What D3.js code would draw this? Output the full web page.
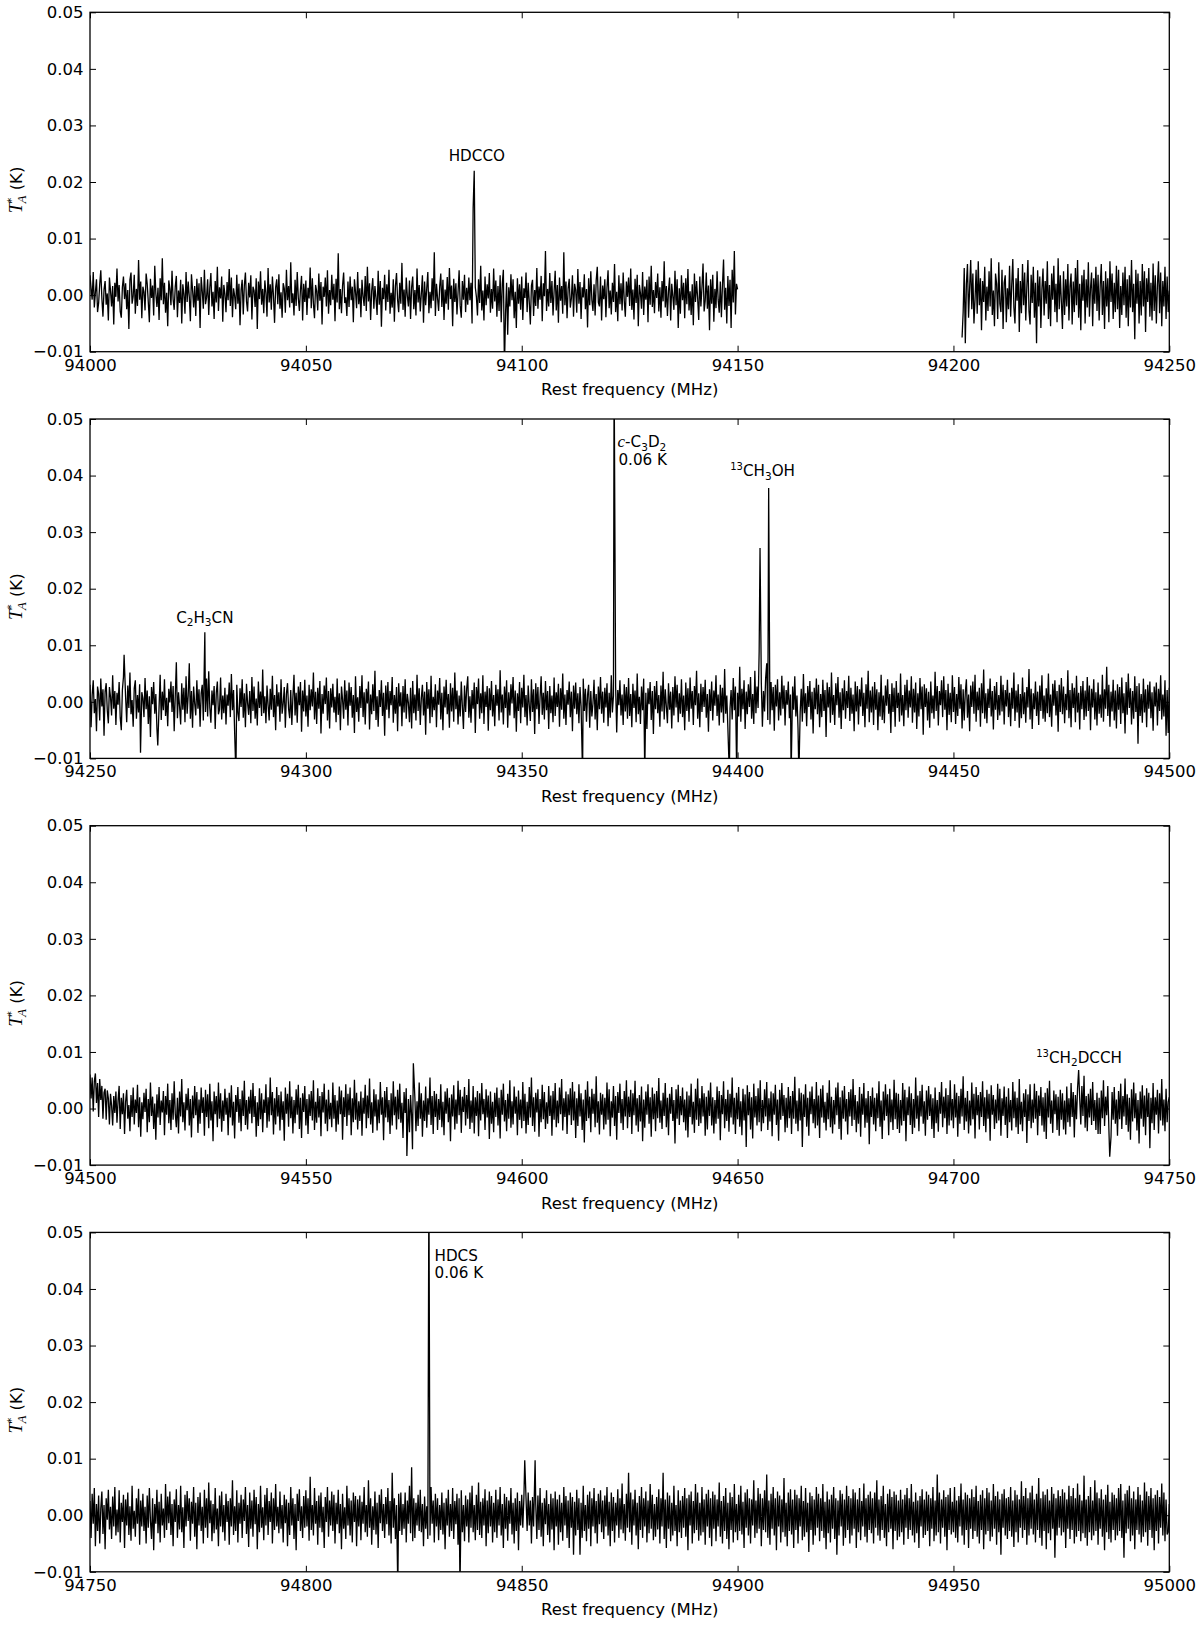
<!DOCTYPE html>
<html><head><meta charset="utf-8">
<script src="https://cdn.jsdelivr.net/npm/d3@7"></script>
<style>body{margin:0;background:#fff}svg{display:block}</style>
</head><body><div id="chart"></div>
<script>
// ---------- data ----------
const panelRanges = [[94000,94250],[94250,94500],[94500,94750],[94750,95000]];
const xTicks1 = [94000,94050,94100,94150,94200,94250];
const xTicks2 = [94250,94300,94350,94400,94450,94500];
const xTicks3 = [94500,94550,94600,94650,94700,94750];
const xTicks4 = [94750,94800,94850,94900,94950,95000];
const yTicks = [-0.01,0,0.01,0.02,0.03,0.04,0.05];
const yTickLabels = ["\u22120.01","0.00","0.01","0.02","0.03","0.04","0.05"];
const xLabel = "Rest frequency (MHz)";
const valueUnit = 1e-4;    // K per stored unit (0.1 mK); channels every 0.25 MHz

// panel 1, band 94000-94150
const p1a = [
35,12,-8,41,-22,5,28,-30,-14,19,44,-6,-38,10,25,-17,3,-45,31,8,-20,16,-52,22,-3,
47,-11,18,-29,-40,14,33,-7,21,-25,9,-60,27,40,-15,-2,36,-33,11,-19,62,-8,24,-41,15,
6,-27,38,20,-12,-48,29,-5,17,-36,52,3,-21,13,-44,30,-9,65,-16,22,-31,4,-55,26,11,
-18,43,-7,-26,15,34,-39,8,-14,27,-50,19,2,-33,41,-12,24,-3,-46,37,10,-22,16,-37,29,
-10,21,-58,32,7,-24,45,-16,-4,28,-35,13,39,-20,6,-42,25,-13,50,-28,14,-6,33,-47,18,
2,-30,23,-9,46,-19,31,-39,12,-1,-25,36,-15,20,-53,9,27,-34,17,40,-11,-29,22,-4,35,
-43,15,8,-21,30,-60,24,-7,42,-17,11,-32,26,4,-38,48,-13,19,-26,33,-2,-49,14,28,-16,
37,-24,5,-40,21,12,-31,45,-9,16,-22,58,-14,3,-36,27,-19,41,-5,-28,10,34,-45,20,-12,
26,-35,13,-6,49,-23,30,-15,-41,18,7,-27,38,-10,23,-52,15,-3,31,-20,44,-33,9,-18,36,
-8,20,-46,29,-13,74,-25,11,-32,17,40,-14,-4,-37,24,-21,33,-9,15,-48,28,6,-23,41,-16,
12,-39,27,-2,-19,34,-28,50,-11,21,-44,8,30,-24,16,-6,-35,43,-17,25,-56,13,-7,36,-27,
19,-12,45,-33,4,-22,28,-47,16,39,-8,-30,22,-15,57,-26,10,-38,31,-1,-20,26,-42,14,33,
-25,9,-36,47,-13,18,-29,3,35,-49,24,-18,12,41,-32,6,-23,30,-10,76,-37,20,-5,-28,15,
38,-21,27,-44,10,-15,32,-26,48,-7,17,-55,29,-12,21,-34,5,44,-19,-40,25,-8,36,-30,13,
-17,31,-9,22,-50,40,-23,14,-3,-36,28,-14,52,-27,8,-45,33,-18,19,-6,39,-31,11,-24,47,
-11,26,-38,16,-28,35,-48,20,45,-16,-33,22,-70,14,-20,37,-9,28,-41,6,-58,30,-15,19,-26,
33,-44,12,-5,40,-30,22,-12,-52,17,27,-37,9,-19,48,-24,15,-8,34,-46,21,-2,78,-28,11,
-20,39,-14,25,-36,7,43,-27,18,-49,31,-10,16,-33,76,-18,24,-41,12,29,-22,-6,35,-38,20,
9,-31,46,-15,23,-42,14,-4,37,-25,11,-57,30,-18,42,-9,-28,19,-36,26,50,-13,-20,33,-45,
17,-7,28,-39,13,44,-23,8,-34,22,-12,55,-30,6,-46,35,-16,21,-27,40,-10,-38,24,-3,31,
-19,47,-26,10,-43,29,-14,36,-55,18,3,-24,41,-35,15,-8,27,-48,33,-17,52,-21,9,-32,23,
-5,38,-29,14,-40,25,-11,60,-22,16,-37,8,31,-45,20,-2,-26,43,-18,28,-58,12,-33,35,-9,
22,-41,30,-16,46,-27,7,-35,19,-53,38,-12,25,-6,-44,33,-20,14,56,-29,-10,40,-24,17,-62,
28,-15,36,-47,11,-23,42,-8,-31,24,-39,18,63,-26,13,-50,34,-19,27,-58,45,-13,78,-34,20,
10];
// panel 1, band 94202-94250
const p1b = [
-75,-30,48,-85,20,55,-40,12,62,-25,38,-50,-8,45,-33,60,-18,30,-62,25,-12,50,-45,15,-28,
42,-20,65,-35,8,-55,38,20,-42,58,-15,-30,45,-60,22,35,-48,12,-25,52,-38,18,64,-22,-50,
30,-10,48,-65,25,-32,55,-18,40,-45,15,62,-28,-52,36,-14,50,-40,22,-85,44,-20,33,-58,12,
47,-36,25,-15,60,-42,18,-55,38,-8,52,-30,20,-48,65,-25,35,-12,-60,42,-35,28,-20,55,-45,
15,38,-52,24,-30,48,-18,62,-40,20,-62,35,-10,45,-50,28,-22,58,-38,12,40,-55,30,-15,50,
-28,36,-45,18,55,-35,25,-60,42,-20,30,-48,60,-12,38,-42,22,-30,52,-25,45,-58,16,-35,40,
-18,50,-40,28,-55,35,-22,62,-30,20,-78,45,-15,38,-50,25,-36,55,-20,42,-65,30,-12,48,-38,
22,-45,56,-28,35,-50,18,60,-32,40,-55,25,-20,50,-42,33,-30,8];
// panel 2, 94250-94500
const p2 = [
30,-45,12,38,-20,5,-52,27,14,-33,41,-8,22,-60,18,33,-15,-38,26,9,-24,47,-12,19,-41,
16,-5,35,-28,-50,21,44,-17,8,-36,29,-11,52,-22,3,-44,24,38,-30,12,-19,31,-55,17,6,
-27,42,-13,20,-39,10,-62,26,-4,35,-21,14,-47,30,-9,48,-32,18,-15,40,-25,7,-43,23,-1,
36,-18,28,-52,11,70,-29,17,-8,-40,33,-14,25,-36,45,-21,12,68,-30,19,-46,27,-3,-24,38,
-12,22,-44,15,30,-33,9,-18,41,-26,54,-10,-37,20,-6,28,-48,16,36,-22,-14,43,-31,11,-20,
25,-40,13,-7,34,-27,49,-15,21,-53,8,30,-19,-34,24,-9,40,-28,15,-45,32,-2,-23,19,-38,
44,-16,27,-30,6,-42,36,-11,18,-25,57,-20,10,-38,29,-5,-33,23,-14,46,-27,12,-50,31,-8,
17,-35,40,-21,-3,26,-46,14,33,-12,-29,21,-41,9,48,-24,16,-37,27,-6,35,-53,20,-17,39,
-26,11,-44,30,-15,22,-8,52,-31,18,-39,25,-12,37,-56,14,-21,29,-4,43,-33,19,-47,24,-10,
32,-19,9,-36,41,-23,15,-50,27,4,-30,38,-14,20,-42,34,-7,26,-28,12,-55,45,-18,8,-35,
28,-11,47,-27,17,-40,23,-3,36,-49,13,-22,31,-16,55,-32,10,-44,21,-9,38,-25,16,-60,29,
-14,35,-29,19,-6,44,-37,12,-21,26,-52,33,-8,17,-43,28,-19,40,-30,14,-2,-36,25,-47,37,
-20,13,-33,48,-16,24,-41,7,30,-24,18,-58,35,-12,22,-38,46,-27,9,-15,31,-45,20,-5,42,
-31,16,-50,27,-10,39,-22,14,-46,33,-17,25,-35,52,-13,20,-40,11,-26,36,-8,-48,29,-18,23,
45,-28,10,-37,21,-12,34,-55,26,-4,41,-30,15,-20,47,-39,18,-9,28,-51,24,-15,37,-26,12,
-43,30,-7,22,-33,56,-19,13,-40,27,-11,38,-46,17,-24,31,-3,44,-29,20,-53,15,-16,35,-38,
25,-10,48,-27,12,-42,29,-6,-34,40,-18,22,-57,33,-13,26,-39,8,45,-23,16,-31,37,-15,19,
-48,28,-20,11,-36,43,-25,17,-9,32,-44,24,-14,50,-30,13,-41,21,-5,36,-27,18,-52,29,-12,
34,-22,15,-38,26,-8,-60,41,-16,23,-35,12,30,-46,19,-26,-3,39,-31,14,-50,27,-13,44,-21,
18,-37,25,-10,33,-43,16,-28,47,-19,11,-33,28,-54,21,-6,38,-24,13,-41,31,-17,26,-30,42,
-25,14,-45,32,-11,20,-36,50,-22,9,-39,27,-15,41,-29,16,-48,24,-4,35,-32,19,-57,28,-13,
37,-20,12,-44,29,-17,53,-31,22,-8,-38,33,-14,18,-47,26,-24,45,-10,30,-36,15,-21,40,-27,
11,-50,34,-16,24,-35,43,-12,19,-41,28,-6,55,-30,15,-45,32,-18,26,-9,39,-28,14,-53,22,
-16,36,-33,20,-7,47,-25,13,-42,30,-19,25,-37,58,-21,11,-46,34,-12,21,-31,42,-15,27,-40,
16,-26,62,-35,23,-13,38,-48,18,-22,31,-9,44,-30,14,-39,55,-20,27,-11,90,-27,33,-44,19,
-17,42,68,-32,20,-40,35,-15,26,-51,30,-8,40,-33,17,-24,46,-12,29,-42,21,-5,36,-29,13,
-38,27,-14,45,-26,11,-47,32,-18,23,-35,49,-20,15,-43,28,-9,37,-31,18,-56,25,-13,41,-22,
30,-45,14,-27,39,-16,21,-62,34,-10,26,-37,52,-23,12,-41,33,-6,44,-28,17,-48,24,-15,38,
-30,19,-11,46,-34,25,-21,13,-52,36,-17,28,-40,22,-8,43,-25,16,-45,31,-12,55,-36,20,-19,
27,-41,35,-14,22,-50,17,-26,48,-32,11,-38,29,-7,40,-21,14,-55,33,-18,25,-44,37,-11,16,
-35,50,-24,12,-43,30,-15,39,-28,20,-10,45,-37,23,-19,34,-48,15,-26,42,-13,27,-58,31,-9,
24,-33,18,-46,36,-20,11,-30,53,-16,28,-42,19,-6,38,-27,45,-14,21,-50,32,-23,16,-36,47,
-18,26,-39,14,-25,44,-12,31,-47,22,-33,17,40,-28,13,-52,29,-9,36,-21,48,-35,18,-15,25,
-44,33,-20,57,-30,15,-38,23,-11,41,-26,19,-49,28,-14,35,-32,12,-24,46,-17,30,-40,21,-8,
39,-27,16,-43,25,-12,52,-34,20,-19,31,-46,14,-29,43,-22,17,-37,26,-10,58,-31,23,-48,15,
-13,36,-25,18,-41,29,-16,47,-30,11,-35,24,-20,50,-27,13,-44,32,-7,38,-24,19,-53,30,-18,
42,-22,27,-38,14,-15,56,-29,21,-45,33,-11,25,-36,46,-19,16,-49,28,-13,37,-32,20,-26,44,
-16,29,-50,23,-10,40,-31,17,-42,34,-21,13,-28,48,-35,22,-12,62,-25,30,-44,18,-17,39,-33,
20,-47,31,-14,26,-39,43,-20,15,-56,35,-23,50,-11,24,-40,19,-30,45,-18,28,-74,33,-25,14,
-37,41,-19,22,-45,30,-12,36,-29,17,-51,27,-8,34,-42,23,-16,47,-31,13,-26,38,-60,21,-55,
25];
// panel 3, 94500-94750
const p3 = [
60,18,55,-5,48,62,10,45,-15,52,15,40,-18,28,35,-20,32,18,-28,26,5,-30,22,-8,30,
-25,14,40,-36,19,-10,27,-45,12,33,-18,6,-40,24,-15,37,-28,16,-8,42,-33,20,-50,11,-19,
28,-6,35,-42,17,-24,46,-13,21,-36,9,-55,25,-16,38,-29,14,-7,31,-47,22,-11,44,-26,15,
-38,27,-20,48,-9,-33,19,-44,30,-14,52,-24,11,-39,26,-3,36,-30,17,-51,23,-17,40,-12,29,
-43,16,-27,37,-8,20,-48,33,-15,25,-35,44,-21,13,-58,30,-10,22,-33,46,-18,27,-41,14,-22,
35,-11,19,-47,28,-16,41,-30,12,-53,24,-6,38,-25,17,-40,32,-13,49,-29,15,-37,21,-9,33,
-26,45,-15,22,-50,11,-31,36,-19,27,-42,16,-8,43,-34,20,-23,55,-12,29,-46,18,-28,38,-14,
24,-39,30,-20,13,-57,37,-9,26,-32,48,-17,21,-44,15,-26,34,-11,42,-36,19,-52,27,-6,40,
-30,17,-45,25,-13,31,-21,50,-38,12,-25,36,-16,22,-49,29,-7,44,-27,16,-40,33,-19,10,-33,
46,-18,24,-41,14,-28,39,-10,32,-55,20,-15,43,-31,26,-12,37,-47,18,-24,51,-20,28,-37,13,
-22,30,-48,19,-9,42,-35,23,-17,53,-28,11,-43,34,-14,25,-39,16,-26,47,-11,20,-56,31,-16,
38,-24,15,-45,27,-30,48,-12,21,-37,33,-19,44,-25,10,-52,29,-8,36,-32,17,-42,24,-14,35,
-26,20,-40,13,-31,46,-18,27,-50,14,-22,39,-34,18,-11,55,-29,22,-45,31,-15,26,-38,17,-20,
43,-33,12,-47,30,-9,36,-24,19,-58,25,-14,41,-37,16,-27,49,-12,33,-43,21,-6,38,-30,24,
-18,52,-36,14,-25,40,-44,20,-13,31,-49,27,-21,45,-10,17,-38,34,-16,23,-54,30,-27,12,-42,
28,-15,37,-30,19,-53,33,-11,44,-23,15,-40,26,-18,50,-34,13,-28,39,-9,21,-47,32,-20,16,
-35,47,-22,26,-44,12,-29,38,-16,55,-31,20,-41,28,-7,34,-50,17,-24,42,-19,29,-36,11,-27,
40,-13,23,-48,31,-20,45,-33,14,-26,37,-10,52,-39,18,-15,30,-45,25,-12,36,-29,47,-21,30,
-52,18,-31,43,-14,27,-38,16,-60,33,-22,48,-17,21,-42,35,-9,26,-33,57,-25,13,-46,28,-11,
25,-37,19,-28,46,-20,34,-49,13,-16,40,-31,22,-55,29,-8,44,-26,17,-38,31,-14,50,-35,21,
-15,33,-45,27,-12,49,-30,18,-41,24,-23,39,-58,16,-34,30,-11,43,-27,20,-50,37,-19,26,-40,
31,-17,54,-25,14,-36,28,-13,45,-33,19,-47,26,-9,38,-22,15,-62,34,-18,42,-29,22,-12,37,
-24,16,-39,30,-51,23,-15,44,-28,12,-43,35,-20,53,-31,18,-26,40,-14,27,-48,21,-37,32,-13,
46,-30,20,-44,15,-27,39,-18,31,-56,24,-10,48,-35,17,-22,33,-41,26,-16,55,-28,19,-45,28,
-19,38,-32,13,-47,35,-21,25,-68,41,-12,29,-37,20,-53,44,-16,22,-30,36,-24,50,-40,15,-26,
34,-14,47,-38,18,-23,30,-49,27,-11,42,-29,16,-57,33,-20,45,-13,24,-42,19,-34,38,-17,22,
-45,31,-18,56,-27,14,-40,36,-21,28,-68,25,-15,43,-32,19,-48,30,-10,39,-26,17,-35,47,-30,
23,-52,35,-16,41,-25,12,-39,28,-19,50,-33,21,-44,15,-28,37,-12,46,-36,20,-55,32,-18,40,
-23,17,-46,29,-14,34,-31,52,-20,24,-42,13,-27,38,-50,26,-11,45,-34,18,-25,31,-63,22,-15,
37,-28,19,-40,27,-17,48,-32,14,-54,30,-21,43,-13,25,-47,35,-24,16,-38,51,-19,28,-36,26,
-43,15,-30,45,-22,33,-58,20,-12,39,-29,27,-45,17,-34,55,-18,23,-40,31,-14,42,-27,13,-48,
32,-20,40,-13,25,-36,18,-52,37,-26,15,-41,29,-9,47,-33,21,-17,36,-45,24,-30,50,-21,17,
-35,43,-16,28,-50,22,-27,35,-14,57,-38,19,-23,31,-44,14,-30,46,-19,26,-53,38,-12,24,-37,
29,-15,48,-31,20,-42,33,-18,26,-57,41,-11,24,-36,16,-26,44,-21,35,-48,18,-13,39,-29,21,
-52,36,-24,15,-39,47,-17,30,-33,19,-45,52,-28,12,-40,27,-15,34,-61,25,-22,43,-35,16,-25,
44,-18,31,-47,23,-13,38,-30,20,-41,28,-54,36,-16,49,-27,14,-43,32,-10,25,-38,21,-48,33,
-20,27,-37,14,-46,39,-24,18,-32,45,-15,29,-51,24,-19,36,-42,17,-28,40,-13,58,-34,22,-40,
26,-16,35,-29,47,-22,15,-38,28,-45,19,-45,32,-17,50,-31,21,-12,40,-35,24,-50,29,-20,38,
-27,16,-48,31,-19,44,-36,22,-14,53,-29,25,-41,19,-55,34,-23,46,-17,27,-39,15,-62,30,-18,
41,-32,23,-47,36,-15,28,-70,19,-26,45,-38,20,-11,33,-44,27,-21,52,-30,16,-40,35,-24,12,
20];
// panel 4, 94750-95000
const p4 = [
25,-40,38,-15,48,-55,20,-28,35,-50,12,42,-33,18,-60,30,-8,45,-25,15,-42,33,-20,50,-36,
10,-30,44,-48,22,-12,36,-58,28,-18,40,-35,16,-45,52,-24,8,-38,30,-15,47,-52,26,-20,38,
-28,15,-50,35,-22,48,-10,-42,30,-62,20,-15,45,-32,24,-48,38,-18,12,-40,55,-26,33,-14,42,
-35,20,-55,28,-12,46,-40,18,-25,52,-30,14,-58,36,-20,43,-10,30,-45,24,-15,50,-38,22,-60,
32,-18,40,-28,15,-50,45,-22,30,-40,58,-14,26,-46,20,-32,48,-25,12,-55,35,-20,42,-30,18,
-45,38,-12,25,-52,30,-20,62,-35,16,-28,44,-48,22,-15,36,-40,28,-10,50,-33,18,-56,40,-24,
26,-38,45,-16,32,-60,20,-30,52,-22,14,-44,36,-18,48,-35,25,-12,40,-50,30,-26,55,-20,15,
-32,42,-24,18,-48,36,-14,28,-55,22,-35,50,-18,30,-42,20,-62,38,-10,46,-28,16,-40,34,-22,
44,-20,30,-45,68,-26,18,-36,48,-15,25,-52,35,-22,40,-30,15,-58,32,-12,50,-38,26,-18,42,
-28,36,-50,22,-16,45,-32,20,-60,38,-24,14,-42,52,-18,30,-36,26,-48,40,-12,34,-55,28,-20,
35,-44,24,-15,50,-30,18,-38,62,-22,30,-52,16,-26,42,-34,22,-58,36,-14,46,-28,20,-40,32,
-16,48,-36,25,-50,75,-22,30,-42,18,-62,38,-28,40,-35,20,-24,40,-48,26,-15,52,-32,85,-46,
30,-40,22,-18,36,-28,45,-30,20,-55,33,-24,16,-42,28,-36,50,-15,26,-48,38,-20,30,-44,18,
-26,40,-34,22,-60,30,-18,45,-38,20,-28,48,-42,25,-16,38,-52,30,-22,44,-30,18,-46,35,-20,
28,-48,40,-22,52,-30,18,-44,36,-26,58,-35,24,-40,30,-18,46,-55,26,-32,42,-20,34,-48,22,
-30,45,-40,28,-18,50,-36,20,-58,38,-24,32,-45,26,-15,48,-34,22,-50,30,-28,40,-62,25,-18,
36,-22,30,-45,30,-28,40,-18,26,-50,32,-20,-30,20,-42,35,-26,48,-38,22,-55,30,-16,44,-35,
20,-48,38,-25,30,-62,42,-20,28,-52,36,-30,22,-45,50,-18,34,-40,26,-58,40,-22,32,-70,24,
-36,45,-26,30,-70,22,-40,52,-28,18,-46,36,-24,42,-55,30,-20,48,-32,25,-50,38,-16,44,-30,
26,-42,35,-20,50,-36,24,-55,40,-28,32,-48,22,-18,46,-40,30,-25,56,-32,20,-45,38,-22,75,
-30,40,-52,28,-18,45,-36,22,-60,34,-26,50,-40,30,-20,42,-48,26,-32,55,-24,36,-44,20,-38,
32,-25,46,-50,30,-20,75,-42,28,-58,40,-24,35,-46,22,-36,52,-28,18,-55,44,-30,26,-40,34,
-22,48,-38,30,-62,36,-18,42,-50,25,-32,55,-26,40,-45,22,-36,50,-30,28,-52,38,-20,45,-40,
30,-55,42,-24,36,-46,28,-20,58,-38,25,-50,34,-28,48,-42,22,-60,40,-26,32,-48,55,-30,20,
-44,36,-28,52,-34,24,-58,40,-22,46,-36,30,-50,28,-18,62,-40,26,-32,48,-24,38,-55,30,-26,
44,-30,72,-40,26,-52,38,-24,50,-36,30,-62,42,-20,35,-48,28,-30,66,-38,22,-55,40,-28,46,
-34,28,-58,45,-26,36,-50,30,-20,52,-44,25,-38,48,-30,22,-65,40,-26,34,-52,28,-36,50,-22,
38,-46,30,-28,55,-40,24,-60,42,-32,28,-48,36,-24,50,-42,30,-70,26,-36,44,-20,38,-54,28,
-40,52,-26,34,-50,30,-36,46,-24,40,-58,28,-30,48,-44,25,-20,56,-38,30,-48,36,-26,42,-32,
30,-50,40,-22,62,-36,28,-45,34,-26,52,-40,20,-55,38,-30,46,-24,32,-60,42,-28,36,-44,26,
-38,45,-30,28,-52,36,-22,48,-42,30,-26,55,-36,24,-48,40,-32,26,-58,34,-20,46,-40,28,-35,
42,-28,36,-55,30,-24,50,-46,26,-36,72,-30,40,-50,28,-22,44,-38,32,-62,36,-26,48,-34,24,
-30,50,-40,26,-48,34,-20,56,-36,28,-52,40,-26,36,-58,30,-24,46,-42,32,-28,52,-38,25,-50,
36,-26,44,-60,30,-34,48,-28,40,-46,26,-38,55,-24,34,-52,42,-30,28,-70,38,-22,46,-36,30,
-42,32,-28,50,-38,26,-56,44,-30,36,-48,28,-22,60,-40,34,-26,48,-52,30,-36,40,-24,52,-34,
28,-48,38,-26,66,-40,30,-54,42,-28,36,-60,46,-32,26,-44,50,-24,38,-75,30,-36,44,-22,34,
-36,46,-30,40,-58,28,-24,52,-42,34,-26,48,-50,30,-38,56,-28,36,-46,26,-32,70,-40,28,-54,
34,-30,50,-44,26,-36,62,-28,40,-52,30,-24,46,-38,28,-62,36,-30,54,-42,24,-48,40,-26,36,
-44,30,-36,48,-28,55,-40,26,-75,38,-32,44,-24,52,-46,30,-36,42,-60,28,-26,50,-34,36,-48,
26,-38,58,-30,42,-54,34,-26,48,-40,30,-62,36,-28,44,-50,32,-22,56,-36,40,-46,28,-34,-30,
20];

// strong single-channel features [frequency MHz, T*A K]
const p1Lines = [[94089.0,0.022],[94088.75,0.0155],[94096.0,-0.013]];
const p2Lines = [[94257.9,0.0083],[94261.7,-0.009],[94265.7,-0.0077],[94276.6,0.0123],[94283.8,-0.013],
  [94364.1,-0.013],[94371.4,0.06],[94378.5,-0.013],[94398.1,-0.013],[94399.8,-0.013],
  [94405.2,0.0272],[94407.2,0.0378],[94412.4,-0.013],[94414.2,-0.013]];
const p3Lines = [[94573.4,-0.0084],[94574.7,-0.0072],[94574.9,0.0080],[94729.0,0.0068],[94736.2,-0.0085]];
const p4Lines = [[94821.3,-0.013],[94828.5,0.06],[94835.7,-0.013],[94850.7,0.0097],[94853.1,0.0097]];

const segments = [
  {panel:0, start:94000, end:94150, values:p1a, lines:p1Lines},
  {panel:0, start:94202, end:94250, values:p1b, lines:p1Lines},
  {panel:1, start:94250, end:94500, values:p2, lines:p2Lines},
  {panel:2, start:94500, end:94750, values:p3, lines:p3Lines},
  {panel:3, start:94750, end:95000, values:p4, lines:p4Lines}
];
const xTickSets = [xTicks1, xTicks2, xTicks3, xTicks4];

// annotations: text pieces [text, kind], anchor in data units
const annotations = [
  {panel:0, f:94089.6, t:0.0237, anchor:"middle", parts:[["HDCCO"]]},
  {panel:1, f:94276.6, t:0.0140, anchor:"middle", parts:[["C"],["2","sub"],["H"],["3","sub"],["CN"]]},
  {panel:1, f:94372.2, t:0.0450, anchor:"start", parts:[["c","it"],["-C"],["3","sub"],["D"],["2","sub"]]},
  {panel:1, f:94372.4, t:0.0418, anchor:"start", parts:[["0.06 K"]]},
  {panel:1, f:94405.8, t:0.0399, anchor:"middle", parts:[["13","sup"],["CH"],["3","sub"],["OH"]]},
  {panel:2, f:94729.1, t:0.0081, anchor:"middle", parts:[["13","sup"],["CH"],["2","sub"],["DCCH"]]},
  {panel:3, f:94829.8, t:0.0450, anchor:"start", parts:[["HDCS"]]},
  {panel:3, f:94829.8, t:0.0420, anchor:"start", parts:[["0.06 K"]]}
];

// ---------- layout ----------
const W = 1200, H = 1625;
const plotLeft = 90, plotRight = 1169.3;
const firstTop = 12.3, panelH = 339.4, panelStep = 406.7;
const sans = "'DejaVu Sans', 'Bitstream Vera Sans', sans-serif";
const serif = "'Liberation Serif', 'DejaVu Serif', serif";
const tickFont = 16.5, annFont = 15.2;

const svg = d3.select("#chart").append("svg").attr("width", W).attr("height", H)
  .style("background", "#fff");

panelRanges.forEach((range, p) => {
  const top = firstTop + p * panelStep;
  const bottom = top + panelH;
  const x = d3.scaleLinear().domain(range).range([plotLeft, plotRight]);
  const y = d3.scaleLinear().domain([-0.01, 0.05]).range([bottom, top]);
  const g = svg.append("g");

  const clipId = "clip" + p;
  g.append("clipPath").attr("id", clipId).append("rect")
    .attr("x", plotLeft).attr("y", top).attr("width", plotRight - plotLeft).attr("height", panelH);

  // spectrum
  const line = d3.line().x(d => x(d.f)).y(d => y(d.t));
  segments.filter(s => s.panel === p).forEach(s => {
    const step = (s.end - s.start) / (s.values.length - 1);
    const pts = s.values.map((v, i) => ({f: s.start + i * step, t: v * valueUnit}));
    s.lines.forEach(([f, t]) => {
      const i = Math.round((f - s.start) / step);
      if (i >= 0 && i < pts.length) { pts[i].t = t; pts[i].f = f; }
    });
    g.append("path").datum(pts).attr("clip-path", `url(#${clipId})`)
      .attr("d", line).attr("fill", "none").attr("stroke", "#000")
      .attr("stroke-width", 1.3).attr("stroke-linejoin", "miter");
  });

  // axes (inward ticks)
  const ticks = xTickSets[p];
  const axB = g.append("g").attr("transform", `translate(0,${bottom})`)
    .call(d3.axisBottom(x).tickValues(ticks).tickFormat(d3.format("d")).tickSizeInner(-6).tickSizeOuter(0).tickPadding(0));
  axB.selectAll("text").attr("dy", null).attr("y", 19);
  const axT = g.append("g").attr("transform", `translate(0,${top})`)
    .call(d3.axisTop(x).tickValues(ticks).tickFormat("").tickSizeInner(-6).tickSizeOuter(0));
  const axL = g.append("g").attr("transform", `translate(${plotLeft},0)`)
    .call(d3.axisLeft(y).tickValues(yTicks).tickFormat((d, i) => yTickLabels[i]).tickSizeInner(-6).tickSizeOuter(0).tickPadding(6.5));
  const axR = g.append("g").attr("transform", `translate(${plotRight},0)`)
    .call(d3.axisRight(y).tickValues(yTicks).tickFormat("").tickSizeInner(-6).tickSizeOuter(0));
  [axB, axT, axL, axR].forEach(a => {
    a.select(".domain").remove();
    a.selectAll("line").attr("stroke", "#000").attr("stroke-width", 1);
    a.selectAll("text").attr("fill", "#000").style("font-family", sans).style("font-size", tickFont + "px");
  });

  // frame
  g.append("rect").attr("x", plotLeft).attr("y", top).attr("width", plotRight - plotLeft).attr("height", panelH)
    .attr("fill", "none").attr("stroke", "#000").attr("stroke-width", 1.3);

  // x label
  g.append("text").attr("x", (plotLeft + plotRight) / 2).attr("y", bottom + 43.5)
    .attr("text-anchor", "middle").style("font-family", sans).style("font-size", tickFont + "px")
    .text(xLabel);

  // y label  T*_A (K)
  const yl = g.append("text").attr("transform", `translate(21.5,${top + panelH / 2 + 8}) rotate(-90)`)
    .attr("text-anchor", "middle").style("font-family", sans).style("font-size", tickFont + "px");
  yl.append("tspan").style("font-family", serif).style("font-style", "italic").style("font-size", "19px").text("T");
  yl.append("tspan").attr("dy", -6.5).style("font-size", "10px").text("*");
  yl.append("tspan").attr("dx", -5.5).attr("dy", 10.5).style("font-family", serif).style("font-style", "italic").style("font-size", "12.5px").text("A");
  yl.append("tspan").attr("dy", -4).text(" (K)");

  // annotations
  annotations.filter(a => a.panel === p).forEach(a => {
    const t = g.append("text").attr("x", x(a.f)).attr("y", y(a.t)).attr("text-anchor", a.anchor)
      .style("font-family", sans).style("font-size", annFont + "px").attr("fill", "#000");
    let off = 0;
    a.parts.forEach(([txt, kind]) => {
      let target = 0;
      const sp = t.append("tspan").text(txt);
      if (kind === "sub") { target = 3.5; sp.style("font-size", "10.5px"); }
      else if (kind === "sup") { target = -6; sp.style("font-size", "10px"); }
      else if (kind === "it") { sp.style("font-family", serif).style("font-style", "italic").style("font-size", "17px"); }
      if (target - off !== 0) sp.attr("dy", target - off);
      off = target;
    });
  });
});
</script>
</body></html>
